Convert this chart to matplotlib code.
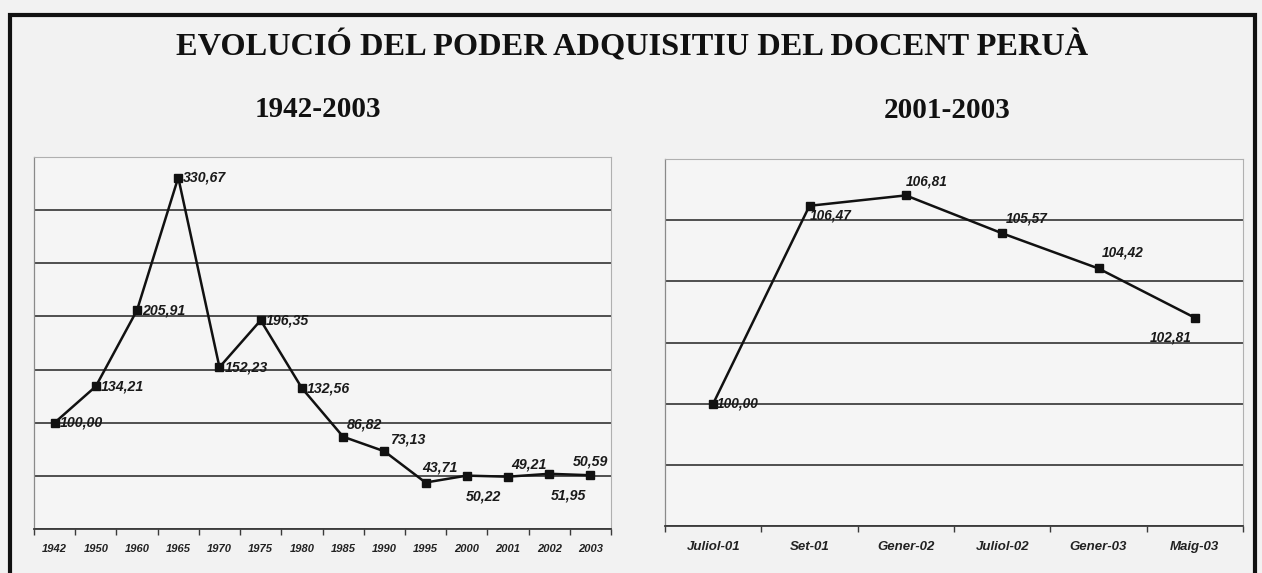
import matplotlib
matplotlib.use('Agg')
import matplotlib.pyplot as plt
from matplotlib.patches import Rectangle

# --- data ---
years = ['1942', '1950', '1960', '1965', '1970', '1975', '1980',
         '1985', '1990', '1995', '2000', '2001', '2002', '2003']
index_long = [100.00, 134.21, 205.91, 330.67, 152.23, 196.35, 132.56,
              86.82, 73.13, 43.71, 50.22, 49.21, 51.95, 50.59]

months = ['Juliol-01', 'Set-01', 'Gener-02', 'Juliol-02', 'Gener-03', 'Maig-03']
index_short = [100.00, 106.47, 106.81, 105.57, 104.42, 102.81]

# label placement (dx px, dy px, ha)
pos_long = [(5, 0, 'left'), (5, 0, 'left'), (5, 0, 'left'), (5, 0, 'left'),
            (5, 0, 'left'), (5, 0, 'left'), (5, 0, 'left'), (4, 12, 'left'),
            (6, 12, 'left'), (-3, 15, 'left'), (-1, -21, 'left'), (3, 12, 'left'),
            (2, -22, 'left'), (0, 14, 'center')]
pos_short = [(4, 0, 'left'), (0, -10, 'left'), (0, 14, 'left'),
             (4, 15, 'left'), (3, 16, 'left'), (-3, -20, 'right')]

W, H = 1262, 573
BG = '#f2f2f2'
fig = plt.figure(figsize=(W / 100, H / 100), dpi=100, facecolor=BG)


def fx(px):
    return px / W


def fy(py):
    return 1 - py / H


# outer frame
fig.patches.append(Rectangle((fx(10), fy(600)), fx(1245), (600 - 15) / H,
                             transform=fig.transFigure, fill=False,
                             edgecolor='#111111', linewidth=3.0))

fig.text(fx(632), fy(46), 'EVOLUCIÓ DEL PODER ADQUISITIU DEL DOCENT PERUÀ',
         family='Liberation Serif', weight='bold', fontsize=23.3,
         ha='center', va='center', color='#111111')
fig.text(fx(318), fy(110), '1942-2003', family='Liberation Serif',
         weight='bold', fontsize=21, ha='center', va='center', color='#111111')
fig.text(fx(947), fy(111), '2001-2003', family='Liberation Serif',
         weight='bold', fontsize=21, ha='center', va='center', color='#111111')


def make_axes(left, right, top, bottom):
    ax = fig.add_axes([fx(left), fy(bottom), fx(right - left), (bottom - top) / H])
    ax.set_facecolor('#f5f5f5')
    for s in ['top', 'right']:
        ax.spines[s].set_color('#b0b0b0')
        ax.spines[s].set_linewidth(0.8)
    ax.spines['left'].set_color('#8a8a8a')
    ax.spines['left'].set_linewidth(0.9)
    ax.spines['bottom'].set_color('#3a3a3a')
    ax.spines['bottom'].set_linewidth(1.3)
    ax.tick_params(axis='y', length=0)
    ax.grid(axis='y', color='#333333', linewidth=1.2)
    ax.set_axisbelow(True)
    return ax


def draw(ax, cats, vals, pos, ylim, ystep, fs_tick, fs_lab):
    n = len(cats)
    x = list(range(n))
    ax.plot(x, vals, color='#111111', linewidth=1.8, marker='s',
            markersize=5.5, markerfacecolor='#111111', zorder=3)
    ax.set_xlim(-0.5, n - 0.5)
    ax.set_ylim(*ylim)
    yt = []
    v = ylim[0]
    while v <= ylim[1] + 1e-9:
        yt.append(v)
        v += ystep
    ax.set_yticks(yt)
    ax.set_yticklabels([])
    ax.set_xticks(x)
    ax.set_xticklabels(cats, fontsize=fs_tick, fontstyle='italic',
                       weight='bold', family='Liberation Sans', color='#222222')
    ax.set_xticks([i - 0.5 for i in range(n + 1)], minor=True)
    ax.tick_params(axis='x', which='major', length=0, pad=11)
    ax.tick_params(axis='x', which='minor', length=4, width=1, color='#3a3a3a',
                   direction='out')
    for i, (val, p) in enumerate(zip(vals, pos)):
        txt = f'{val:.2f}'.replace('.', ',')
        ax.annotate(txt, (i, val), xytext=(p[0], p[1]), textcoords='offset pixels',
                    ha=p[2], va='center', fontsize=fs_lab, fontstyle='italic',
                    weight='bold', family='Liberation Sans', color='#1a1a1a',
                    zorder=4)


ax1 = make_axes(34, 611, 157, 529)
draw(ax1, years, index_long, pos_long, (0, 350), 50, 8, 10.2)

ax2 = make_axes(665, 1243, 159, 526)
draw(ax2, months, index_short, pos_short, (96, 108), 2, 9.5, 9.8)

fig.savefig('out.png', dpi=100, facecolor=BG)
